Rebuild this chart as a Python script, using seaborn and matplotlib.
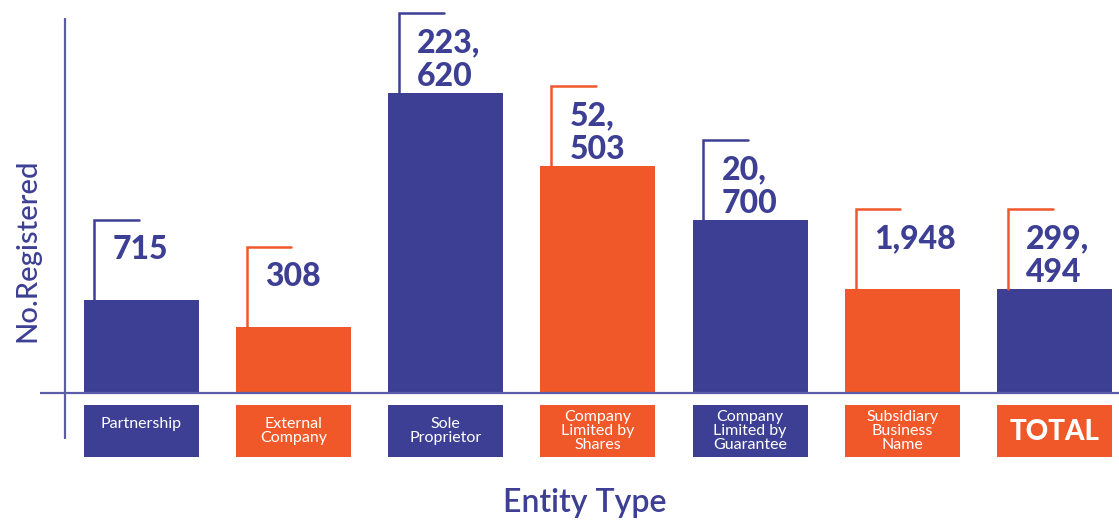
import matplotlib
matplotlib.use("Agg")
import matplotlib.pyplot as plt
import seaborn as sns
import pandas as pd

# ---- data ----
categories = ["Partnership", "External Company", "Sole Proprietor",
              "Company Limited by Shares", "Company Limited by Guarantee",
              "Subsidiary Business Name", "TOTAL"]
box_labels = ["Partnership\n", "External\nCompany", "Sole\nProprietor",
              "Company\nLimited by\nShares", "Company\nLimited by\nGuarantee",
              "Subsidiary\nBusiness\nName", "TOTAL"]
value_labels = ["715", "308", "223,\n620", "52,\n503", "20,\n700", "1,948", "299,\n494"]
# drawn (infographic) bar heights as read from the picture, not proportional to values
bar_heights = [93, 66, 300, 227, 173, 104, 104]

BLUE = "#3d3f94"
ORANGE = "#f0582a"
AXIS = "#5b5da9"
bar_colors = [BLUE, ORANGE, BLUE, ORANGE, BLUE, ORANGE, BLUE]
box_colors = [BLUE, ORANGE, BLUE, ORANGE, BLUE, ORANGE, ORANGE]

sns.set_theme(style="white")
plt.rcParams["font.family"] = ["Lato", "DejaVu Sans"]

W, H = 1119, 520
fig = plt.figure(figsize=(W / 100, H / 100), dpi=100)
left_px = 65
ax = fig.add_axes([left_px / W, 0, (W - left_px) / W, 1])

df = pd.DataFrame({"cat": categories, "h": bar_heights})
bw = 0.755
sns.barplot(data=df, x="cat", y="h", hue="cat", palette=bar_colors,
            legend=False, width=bw, saturation=1, ax=ax, linewidth=0)

step = 152.25
ax.set_xlim(-0.5, -0.5 + (W - left_px) / step)
base_px = 393
ax.set_ylim(-(H - base_px), base_px)
ax.set_axis_off()

# axes lines
ax.plot([-0.5, -0.5], [-(439 - base_px), base_px - 18], color=AXIS, lw=1.6,
        clip_on=False, solid_capstyle="butt")
ax.plot([-0.5 - 25 / step, ax.get_xlim()[1]], [0, 0], color=AXIS, lw=1.6,
        clip_on=False, solid_capstyle="butt")

# category boxes
box_top, box_bot = -12, -64
ax.bar(range(len(categories)), box_bot - box_top, bottom=box_top, width=bw,
       color=box_colors, linewidth=0)

for i, (lab, h, val, bc) in enumerate(zip(box_labels, bar_heights, value_labels, box_colors)):
    x0 = i - bw / 2
    # leader line
    lx = x0 + 0.07
    ax.plot([lx, lx, lx + 0.295], [h, h + 80, h + 80], color=bc, lw=1.8,
            solid_joinstyle="miter")
    # value text
    ax.text(x0 + 0.19, h + 65, val, ha="left", va="top", color=BLUE,
            fontsize=23, fontweight="black", linespacing=1.2)
    # box label
    if lab == "TOTAL":
        ax.text(i, -39, lab, ha="center", va="center", color="white",
                fontsize=20, fontweight="black")
    else:
        ax.text(i, -38, lab, ha="center", va="center", color="white",
                fontsize=11.5, linespacing=1.0)

ax.text(585 / step - 0.5 - left_px / step, -110, "Entity Type", ha="center",
        va="center", color=BLUE, fontsize=23, fontweight="semibold")
fig.text(27 / W, 1 - 250 / H, "No.Registered", rotation=90, ha="center",
         va="center", color=BLUE, fontsize=21, fontweight="medium")

fig.savefig("out.png", dpi=100)
